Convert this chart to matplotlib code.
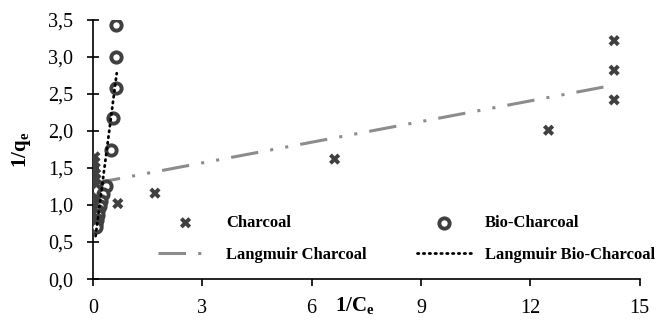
import matplotlib
matplotlib.use('Agg')
import matplotlib.pyplot as plt
from matplotlib.ticker import FuncFormatter, MultipleLocator

plt.rcParams['font.family'] = ['Liberation Serif', 'DejaVu Serif']
plt.rcParams['mathtext.fontset'] = 'custom'
plt.rcParams['mathtext.rm'] = 'Liberation Serif'
plt.rcParams['mathtext.bf'] = 'Liberation Serif:bold'

# Charcoal data points
charcoal_x = [0.05, 0.05, 0.06, 0.07, 0.08, 0.09, 0.10, 0.06, 0.68, 1.70, 6.63, 12.5, 14.3, 14.3, 14.3]
charcoal_y = [1.65, 1.58, 1.50, 1.42, 1.35, 1.28, 1.10, 1.04, 1.02, 1.16, 1.62, 2.01, 2.42, 2.82, 3.22]

# Bio-charcoal data points
bio_x = [0.63, 0.63, 0.62, 0.55, 0.50, 0.36, 0.26, 0.21, 0.18, 0.15, 0.13, 0.11, 0.09, 0.08]
bio_y = [3.43, 3.00, 2.58, 2.18, 1.74, 1.26, 1.15, 1.05, 0.98, 0.92, 0.86, 0.80, 0.74, 0.70]

# Langmuir fit lines (end points)
lang_c_x = [0.0, 14.3]
lang_c_y = [1.29, 2.62]
lang_b_x = [0.07, 0.65]
lang_b_y = [0.58, 2.78]

dark = '#404040'

fig = plt.figure(figsize=(6.57, 3.26), dpi=100)
ax = fig.add_axes([0.1416, 0.144, 0.832, 0.795])

h_c = ax.scatter(charcoal_x, charcoal_y, marker='X', s=65, color=dark, edgecolors='none', zorder=3)
h_b = ax.scatter(bio_x, bio_y, marker='o', s=55, facecolors='white', edgecolors=dark, linewidths=2.8, zorder=3)
h_lc, = ax.plot(lang_c_x, lang_c_y, color='#8c8c8c', lw=2.2, dashes=(9, 4, 1, 4, 1, 4), zorder=2)
h_lb, = ax.plot(lang_b_x, lang_b_y, color='black', lw=2.0, linestyle=(0, (0.5, 1.6)),
                dash_capstyle='round', zorder=4)

ax.set_xlim(0, 15)
ax.set_ylim(0, 3.5)
ax.xaxis.set_major_locator(MultipleLocator(3))
ax.yaxis.set_major_locator(MultipleLocator(0.5))
ax.yaxis.set_major_formatter(FuncFormatter(lambda v, p: f'{v:.1f}'.replace('.', ',')))

for s in ['top', 'right']:
    ax.spines[s].set_visible(False)
for s in ['left', 'bottom']:
    ax.spines[s].set_linewidth(1.2)
ax.tick_params(labelsize=14.5, width=1.2)
ax.tick_params(axis='x', direction='out', length=5, pad=9)
ax.tick_params(axis='y', direction='inout', length=9, pad=10)

ax.set_xlabel(r'$\mathbf{1/C_e}$', fontsize=15)
ax.xaxis.set_label_coords(0.478, -0.06)
ax.set_ylabel(r'$\mathbf{1/q_e}$', fontsize=15)
ax.yaxis.set_label_coords(-0.11, 0.5)

leg = ax.legend([h_c, h_lc, h_b, h_lb],
                ['Charcoal', 'Langmuir Charcoal', 'Bio-Charcoal', 'Langmuir Bio-Charcoal'],
                ncol=2, loc='upper left', bbox_to_anchor=(0.2405, 0.34),
                bbox_transform=fig.transFigure, borderaxespad=0, borderpad=0, frameon=False,
                prop={'weight': 'bold', 'size': 12}, handlelength=3.3, columnspacing=3.0,
                labelspacing=0.95, handletextpad=0.78)

fig.savefig('out.png', dpi=100)
